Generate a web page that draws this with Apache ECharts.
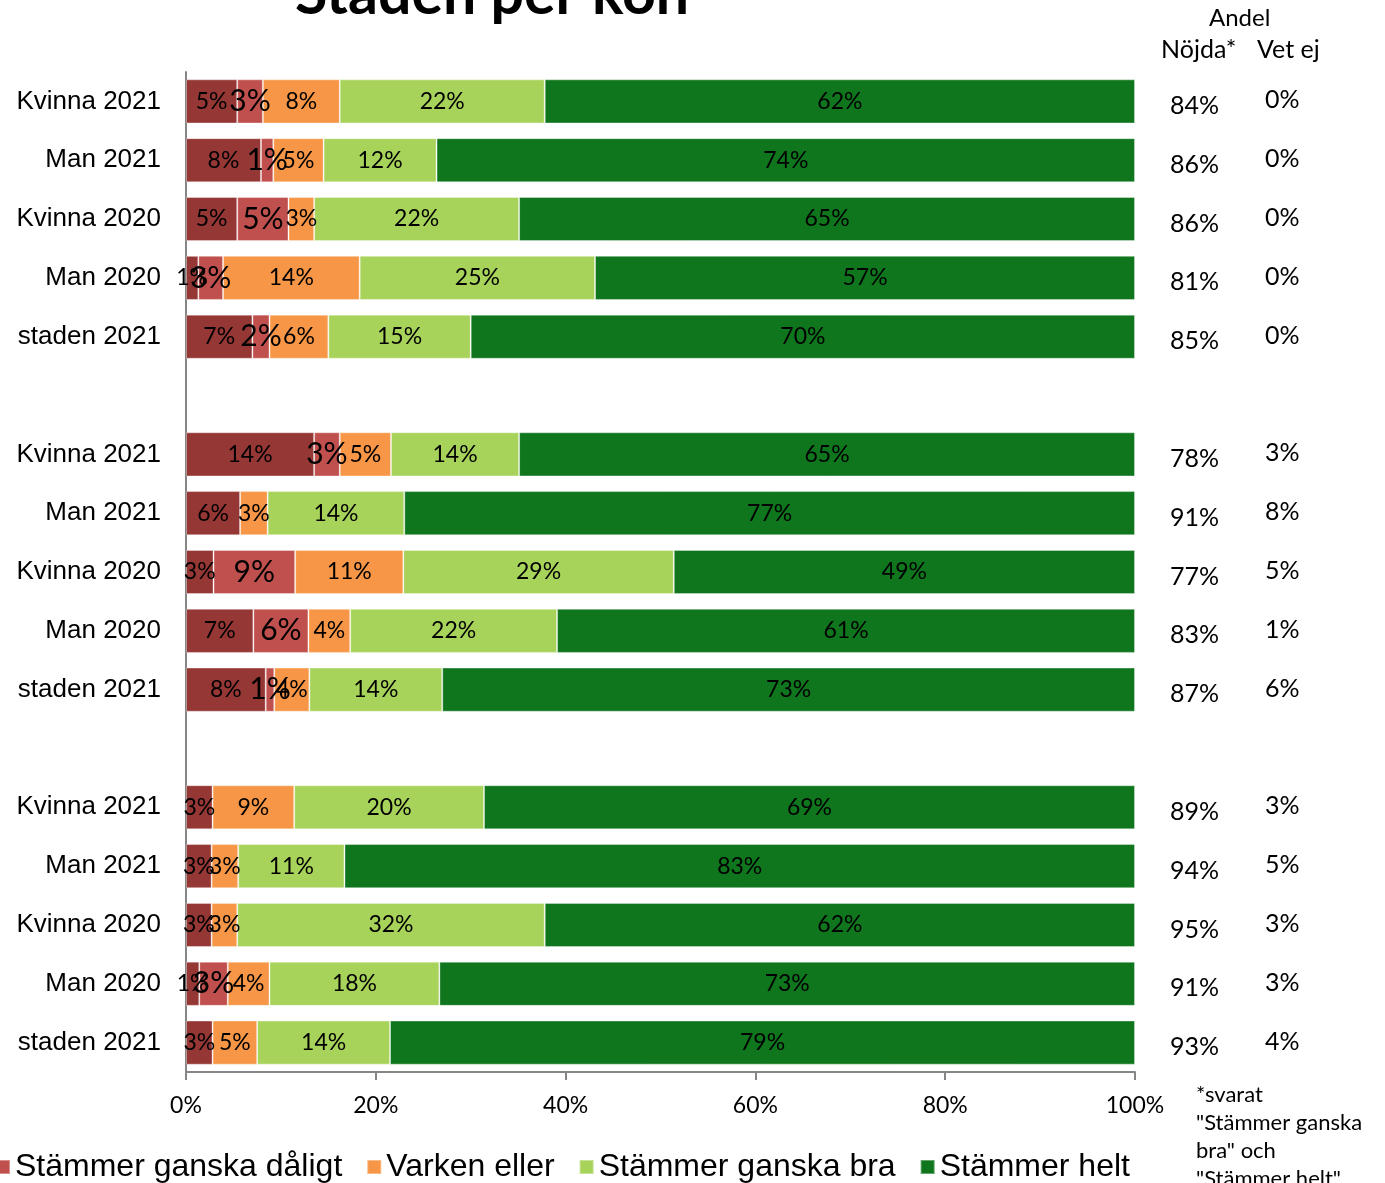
<!DOCTYPE html>
<html>
<head>
<meta charset="utf-8">
<script src="https://cdn.jsdelivr.net/npm/echarts@6/dist/echarts.min.js"></script>
<style>
html,body{margin:0;padding:0;background:#fff;}
#chart{width:1385px;height:1183px;}
</style>
</head>
<body>
<div id="chart"></div>
<script>
// Categories (top to bottom); '' = spacer rows between groups
const categories = ['Kvinna 2021','Man 2021','Kvinna 2020','Man 2020','staden 2021','',
                    'Kvinna 2021','Man 2021','Kvinna 2020','Man 2020','staden 2021','',
                    'Kvinna 2021','Man 2021','Kvinna 2020','Man 2020','staden 2021'];
const seriesNames = ['Stämmer inte alls','Stämmer ganska dåligt','Varken eller','Stämmer ganska bra','Stämmer helt'];
const inteAlls      = [5.4, 7.9, 5.4, 1.3, 7.0, null, 13.5, 5.7, 2.9, 7.1, 8.4, null, 2.8, 2.7, 2.7, 1.4, 2.8];
const ganskaDaligt  = [2.7, 1.3, 5.4, 2.6, 1.8, null, 2.7, null, 8.6, 5.8, 0.9, null, null, null, null, 3.0, null];
const varkenEller   = [8.1, 5.3, 2.7, 14.4, 6.2, null, 5.4, 2.9, 11.4, 4.4, 3.7, null, 8.6, 2.8, 2.7, 4.4, 4.7];
const gansgBra      = [21.6, 11.9, 21.6, 24.8, 15.0, null, 13.5, 14.4, 28.5, 21.8, 14.0, null, 20.0, 11.2, 32.4, 17.9, 14.0];
const helt          = [62.2, 73.6, 64.9, 56.9, 70.0, null, 64.9, 77.0, 48.6, 60.9, 73.0, null, 68.6, 83.3, 62.2, 73.3, 78.5];
const andelNojda    = [84, 86, 86, 81, 85, null, 78, 91, 77, 83, 87, null, 89, 94, 95, 91, 93];
const andelVetEj    = [0, 0, 0, 0, 0, null, 3, 8, 5, 1, 6, null, 3, 5, 3, 3, 4];
const xTicks = [0, 20, 40, 60, 80, 100];

const colors = ['#953735', '#C0504D', '#F79646', '#A8D35B', '#0F761D'];
const seriesData = [inteAlls, ganskaDaligt, varkenEller, gansgBra, helt];
const labelSizes = [23, 30, 23, 23, 23];
const calibriLike = 'Lato, "Open Sans", sans-serif';
const arialLike = '"Liberation Sans", Arial, sans-serif';

const chart = echarts.init(document.getElementById('chart'));
const option = {
  backgroundColor: '#ffffff',
  animation: false,
  title: {
    text: 'Staden per kön',
    left: 290, top: -40,
    textStyle: {fontFamily: calibriLike, fontWeight: 'bold', fontSize: 59, color: '#000'}
  },
  legend: {
    data: seriesNames.slice(1),
    left: -10, top: 1146,
    icon: 'rect', itemWidth: 14, itemHeight: 14, itemGap: 24,
    textStyle: {fontFamily: arialLike, fontSize: 32, color: '#000'}
  },
  grid: {left: 186, right: 250, top: 72, bottom: 111, containLabel: false},
  xAxis: {
    type: 'value', min: xTicks[0], max: xTicks[xTicks.length - 1], interval: 20,
    axisLine: {show: true, lineStyle: {color: '#868686', width: 2}},
    axisTick: {show: true, length: 8, lineStyle: {color: '#868686', width: 2}},
    splitLine: {show: false},
    axisLabel: {margin: 22, formatter: '{value}%', fontFamily: calibriLike, fontSize: 23, color: '#000'}
  },
  yAxis: [{
    type: 'category', data: categories, inverse: true,
    axisLine: {show: true, lineStyle: {color: '#868686', width: 2}},
    axisTick: {show: false},
    axisLabel: {margin: 25, fontFamily: arialLike, fontSize: 26, color: '#000'}
  }, {
    type: 'category', data: categories, inverse: true, position: 'right',
    axisLine: {show: false}, axisTick: {show: false},
    axisLabel: {
      margin: 35,
      formatter: function (v, i) {
        if (andelNojda[i] == null) return '';
        return '{n|' + andelNojda[i] + '%}{v|' + andelVetEj[i] + '%}';
      },
      rich: {
        n: {width: 95, fontFamily: calibriLike, fontSize: 25, color: '#000', padding: [9, 0, 0, 0]},
        v: {fontFamily: calibriLike, fontSize: 25, color: '#000', padding: [0, 0, 2, 0]}
      }
    }
  }],
  series: seriesNames.map((name, k) => ({
    name: name, type: 'bar', stack: 'total',
    barCategoryGap: '25%',
    data: seriesData[k],
    itemStyle: {color: colors[k], borderColor: 'rgba(255,255,255,0.35)', borderWidth: 1},
    label: {
      show: true, position: 'inside', color: '#000',
      fontFamily: calibriLike, fontSize: labelSizes[k],
      formatter: p => (p.value == null ? '' : Math.round(p.value) + '%')
    },
    labelLayout: {hideOverlap: false}
  })),
  graphic: [
    {type: 'text', left: 1209, top: 6, style: {text: 'Andel', font: '24px ' + calibriLike, fill: '#000'}},
    {type: 'text', left: 1161, top: 37, style: {text: 'Nöjda*', font: '25px ' + calibriLike, fill: '#000'}},
    {type: 'text', left: 1257, top: 37, style: {text: 'Vet ej', font: '25px ' + calibriLike, fill: '#000'}},
    {type: 'text', left: 1196, top: 1081, style: {
      text: '*svarat\n"Stämmer ganska\nbra" och\n"Stämmer helt"',
      font: '22px ' + calibriLike, lineHeight: 28, fill: '#000'}}
  ]
};
chart.setOption(option);
</script>
</body>
</html>
